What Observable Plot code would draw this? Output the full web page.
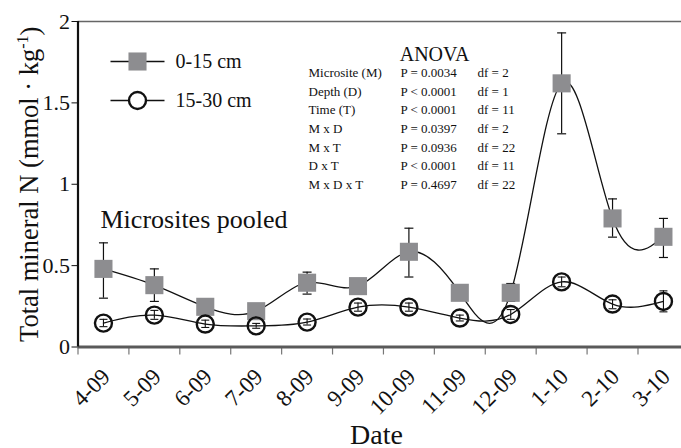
<!DOCTYPE html>
<html><head><meta charset="utf-8">
<script src="https://cdn.jsdelivr.net/npm/d3@7"></script>
<script src="https://cdn.jsdelivr.net/npm/@observablehq/plot@0.6"></script>
<style>body{margin:0;background:#fff} svg text{font-family:'Liberation Serif','Times New Roman',serif}</style>
</head><body><div id="chart"></div>
<script>
// ---- data ----
const dates = ["4-09","5-09","6-09","7-09","8-09","9-09","10-09","11-09","12-09","1-10","2-10","3-10"];
const shallowMean = [0.48,0.38,0.247,0.22,0.395,0.374,0.585,0.333,0.333,1.62,0.79,0.677];
const shallowLo   = [0.30,0.28,0.22,0.20,0.325,0.35,0.43,0.31,0.28,1.31,0.675,0.55];
const shallowHi   = [0.64,0.48,0.27,0.24,0.46,0.40,0.73,0.355,0.39,1.93,0.91,0.79];
const deepMean = [0.147,0.196,0.141,0.13,0.153,0.245,0.245,0.178,0.2,0.40,0.264,0.28];
const deepLo   = [0.125,0.17,0.12,0.115,0.135,0.22,0.22,0.16,0.17,0.37,0.235,0.216];
const deepHi   = [0.17,0.225,0.165,0.145,0.172,0.27,0.27,0.196,0.23,0.43,0.29,0.345];
const yTicks = [0, 0.5, 1, 1.5, 2];
const seriesNames = ["0-15 cm", "15-30 cm"];
const anovaTitle = "ANOVA";
const anovaTerms = ["Microsite (M)","Depth (D)","Time (T)","M x D","M x T","D x T","M x D x T"];
const anovaP = ["P = 0.0034","P < 0.0001","P < 0.0001","P = 0.0397","P = 0.0936","P < 0.0001","P = 0.4697"];
const anovaDf = ["df = 2","df = 1","df = 11","df = 2","df = 22","df = 11","df = 22"];
const panelLabel = "Microsites pooled";
const xTitle = "Date";
const yTitle = "Total mineral N (mmol · kg-1)";

const rows = dates.map((d, i) => ({
  i, date: d,
  s: shallowMean[i], sLo: shallowLo[i], sHi: shallowHi[i],
  dm: deepMean[i], dLo: deepLo[i], dHi: deepHi[i]
}));
const xDomain = [-0.5, dates.length - 0.5];
const boundaries = dates.map((d, i) => i - 0.5);

const hline = {draw(ctx, size) { const r = Math.sqrt(size / Math.PI); ctx.moveTo(-r, 0); ctx.lineTo(r, 0); }};
const ink = "#111";
const squareFill = "#8d8d90";
const serif = "'Liberation Serif', 'Times New Roman', serif";

const chart = Plot.plot({
  width: 681, height: 448,
  marginLeft: 77.5, marginRight: 0, marginTop: 21, marginBottom: 101.5,
  style: {fontFamily: serif, fontSize: "22px", background: "#fff", color: ink},
  x: {type: "linear", domain: xDomain, range: [77.5, 688.4]},
  y: {domain: [0, 2]},
  marks: [
    Plot.ruleY([2], {stroke: "#666", strokeWidth: 1.5}),
    Plot.axisX({ticks: boundaries, tickSize: 8, tickFormat: () => "", stroke: "#777", strokeWidth: 1.2, label: null}),
    Plot.axisY({ticks: yTicks, tickSize: 6, tickPadding: 2, tickFormat: d3.format("~g"), fontSize: 22, fontFamily: serif, label: null, stroke: ink}),
    Plot.ruleY([0], {stroke: "#5a5a5a", strokeWidth: 3}),
    Plot.ruleX([xDomain[0]], {stroke: ink, strokeWidth: 2.2}),
    // curves
    Plot.line(rows, {x: "i", y: "s", curve: "natural", stroke: ink, strokeWidth: 1.3}),
    Plot.line(rows, {x: "i", y: "dm", curve: "natural", stroke: ink, strokeWidth: 1.3}),
    // 0-15 cm error bars + squares
    Plot.ruleX(rows, {x: "i", y1: "sLo", y2: "sHi", stroke: ink, strokeWidth: 1.2}),
    Plot.dot(rows, {x: "i", y: "sLo", symbol: hline, r: 4.5, stroke: ink, strokeWidth: 1.2, fill: "none"}),
    Plot.dot(rows, {x: "i", y: "sHi", symbol: hline, r: 4.5, stroke: ink, strokeWidth: 1.2, fill: "none"}),
    Plot.dot(rows, {x: "i", y: "s", symbol: "square", r: 10.2, fill: squareFill, stroke: "none"}),
    // 15-30 cm circles + error bars
    Plot.dot(rows, {x: "i", y: "dm", symbol: "circle", r: 8.5, fill: "none", stroke: ink, strokeWidth: 2.4}),
    Plot.ruleX(rows, {x: "i", y1: "dLo", y2: "dHi", stroke: ink, strokeWidth: 1.1}),
    Plot.dot(rows, {x: "i", y: "dLo", symbol: hline, r: 4, stroke: ink, strokeWidth: 1.1, fill: "none"}),
    Plot.dot(rows, {x: "i", y: "dHi", symbol: hline, r: 4, stroke: ink, strokeWidth: 1.1, fill: "none"}),
    // x tick labels
    Plot.text(rows, {x: "i", y: () => 0, text: "date", rotate: -45, textAnchor: "end", lineAnchor: "bottom", dx: 8, dy: 31, fontSize: 23, fontFamily: serif, fill: ink}),
    // axis titles
    Plot.text([xTitle], {frameAnchor: "bottom-left", dx: 298.5, dy: 96.5, textAnchor: "middle", lineAnchor: "bottom", fontSize: 28, fontFamily: serif, fill: ink}),
    Plot.text([yTitle], {frameAnchor: "left", dx: -40, rotate: -90, textAnchor: "middle", lineAnchor: "bottom", fontSize: 26.5, fontFamily: serif, fill: ink}),
    // panel label
    Plot.text([panelLabel], {frameAnchor: "top-left", dx: 22.5, dy: 206, textAnchor: "start", lineAnchor: "bottom", fontSize: 26, fontFamily: serif, fill: ink}),
    // legend
    Plot.dot([seriesNames[0]], {frameAnchor: "top-left", dx: 59.5, dy: 40, symbol: hline, r: 27, stroke: ink, strokeWidth: 1.3}),
    Plot.dot([seriesNames[0]], {frameAnchor: "top-left", dx: 59.5, dy: 40, symbol: "square", r: 10.2, fill: squareFill, stroke: "none"}),
    Plot.text([seriesNames[0]], {frameAnchor: "top-left", dx: 97.5, dy: 46, textAnchor: "start", lineAnchor: "bottom", fontSize: 20, fontFamily: serif, fill: ink}),
    Plot.dot([seriesNames[1]], {frameAnchor: "top-left", dx: 59.5, dy: 79, symbol: hline, r: 27, stroke: ink, strokeWidth: 1.3}),
    Plot.dot([seriesNames[1]], {frameAnchor: "top-left", dx: 59.5, dy: 79, symbol: "circle", r: 8.5, fill: "#fff", stroke: ink, strokeWidth: 2.4}),
    Plot.text([seriesNames[1]], {frameAnchor: "top-left", dx: 97.5, dy: 85, textAnchor: "start", lineAnchor: "bottom", fontSize: 20, fontFamily: serif, fill: ink}),
    // ANOVA table
    Plot.text([anovaTitle], {frameAnchor: "top-left", dx: 356.5, dy: 39, textAnchor: "middle", lineAnchor: "bottom", fontSize: 20, fontFamily: serif, fill: ink}),
    Plot.text([anovaTerms.join("\n")], {frameAnchor: "top-left", dx: 230.5, dy: 167.3, textAnchor: "start", lineAnchor: "bottom", lineHeight: 1.43, fontSize: 13, fontFamily: serif, fill: ink}),
    Plot.text([anovaP.join("\n")], {frameAnchor: "top-left", dx: 322.5, dy: 167.3, textAnchor: "start", lineAnchor: "bottom", lineHeight: 1.43, fontSize: 13, fontFamily: serif, fill: ink}),
    Plot.text([anovaDf.join("\n")], {frameAnchor: "top-left", dx: 399.5, dy: 167.3, textAnchor: "start", lineAnchor: "bottom", lineHeight: 1.43, fontSize: 13, fontFamily: serif, fill: ink})
  ]
});
document.getElementById("chart").appendChild(chart);

// superscript for the unit in the y-axis title
d3.select(chart).selectAll("text").filter(function () { return this.textContent === yTitle; })
  .each(function () {
    const t = d3.select(this);
    t.text(null);
    t.append("tspan").text("Total mineral N (mmol · kg");
    t.append("tspan").text("-1").attr("font-size", "16px").attr("dy", "-0.6em");
    t.append("tspan").text(")").attr("dy", "0.4em");
  });
</script>
</body></html>
